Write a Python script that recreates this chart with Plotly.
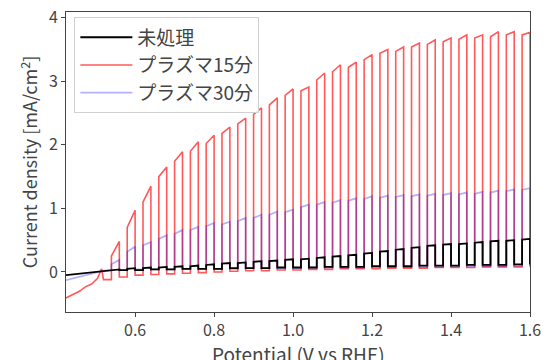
import plotly.graph_objects as go

# Chopped-light LSV: light-on intervals (V vs RHE)
on_start = [0.54, 0.58, 0.62, 0.66, 0.70, 0.74, 0.78, 0.82, 0.86, 0.90, 0.94, 0.98, 1.02, 1.06,
            1.10, 1.14, 1.18, 1.22, 1.26, 1.30, 1.34, 1.38, 1.42, 1.46, 1.50, 1.54, 1.58]
on_end = [0.56, 0.60, 0.64, 0.68, 0.72, 0.76, 0.80, 0.84, 0.88, 0.92, 0.96, 1.00, 1.04, 1.08,
          1.12, 1.16, 1.20, 1.24, 1.28, 1.32, 1.36, 1.40, 1.44, 1.48, 1.52, 1.56, 1.60]

# 未処理 (untreated)
black_pre_x = [0.425, 0.47, 0.52]
black_pre_y = [-0.05, -0.02, 0.01]
black_dark = [0.02, 0.03, 0.03, 0.04, 0.04, 0.05, 0.05, 0.05, 0.06, 0.06, 0.06, 0.07, 0.07, 0.07,
              0.08, 0.08, 0.08, 0.09, 0.09, 0.09, 0.10, 0.10, 0.10, 0.11, 0.11, 0.11, 0.12]
black_top_start = [0.03, 0.05, 0.06, 0.07, 0.08, 0.09, 0.11, 0.13, 0.14, 0.16, 0.17, 0.19, 0.20, 0.22,
                   0.24, 0.26, 0.29, 0.32, 0.35, 0.38, 0.41, 0.43, 0.44, 0.46, 0.48, 0.49, 0.51]
black_top_end = [0.04, 0.06, 0.07, 0.08, 0.09, 0.10, 0.12, 0.14, 0.15, 0.17, 0.18, 0.20, 0.21, 0.23,
                 0.25, 0.27, 0.30, 0.33, 0.36, 0.39, 0.42, 0.44, 0.45, 0.47, 0.49, 0.50, 0.52]

# プラズマ15分
red_pre_x = [0.425, 0.44, 0.46, 0.475, 0.49, 0.505, 0.515, 0.52]
red_pre_y = [-0.41, -0.36, -0.30, -0.23, -0.19, -0.10, 0.05, -0.12]
red_dark = [-0.12, -0.08, -0.05, -0.04, -0.03, -0.02, -0.01, 0.00, 0.01, 0.02, 0.02, 0.03, 0.03, 0.04,
            0.04, 0.05, 0.05, 0.05, 0.06, 0.06, 0.06, 0.07, 0.07, 0.07, 0.08, 0.08, 0.08]
red_top_start = [0.25, 0.70, 1.10, 1.50, 1.74, 1.90, 2.02, 2.18, 2.33, 2.48, 2.63, 2.78, 2.85, 3.02,
                 3.15, 3.22, 3.34, 3.44, 3.47, 3.54, 3.58, 3.62, 3.66, 3.68, 3.70, 3.73, 3.73]
red_top_end = [0.48, 0.97, 1.35, 1.65, 1.89, 2.05, 2.15, 2.28, 2.42, 2.58, 2.74, 2.88, 2.91, 3.13,
               3.26, 3.30, 3.42, 3.50, 3.54, 3.60, 3.65, 3.68, 3.73, 3.73, 3.78, 3.78, 3.77]

# プラズマ30分
blue_pre_x = [0.425, 0.47, 0.52]
blue_pre_y = [-0.13, -0.06, 0.02]
blue_dark = [0.03, 0.03, 0.04, 0.04, 0.04, 0.05, 0.05, 0.05, 0.05, 0.06, 0.06, 0.06, 0.06, 0.07,
             0.07, 0.07, 0.07, 0.08, 0.08, 0.08, 0.08, 0.08, 0.09, 0.09, 0.09, 0.09, 0.10]
blue_top_start = [0.12, 0.32, 0.42, 0.52, 0.60, 0.66, 0.72, 0.75, 0.80, 0.85, 0.90, 0.94, 1.02, 1.06,
                  1.09, 1.12, 1.15, 1.17, 1.18, 1.19, 1.20, 1.21, 1.22, 1.23, 1.25, 1.27, 1.29]
blue_top_end = [0.19, 0.40, 0.47, 0.58, 0.66, 0.71, 0.77, 0.79, 0.85, 0.90, 0.95, 0.98, 1.06, 1.10,
                1.13, 1.16, 1.19, 1.20, 1.21, 1.22, 1.23, 1.24, 1.25, 1.26, 1.28, 1.30, 1.32]

x_title = "Potential (V vs RHE)"
y_title = "Current density [mA/cm<sup>2</sup>]"


def build(pre_x, pre_y, dark, top_s, top_e):
    xs, ys = list(pre_x), list(pre_y)
    for k in range(len(on_start)):
        xs += [on_start[k], on_start[k], on_end[k], on_end[k]]
        nxt = dark[k + 1] if k + 1 < len(dark) else dark[k]
        ys += [dark[k], top_s[k], top_e[k], nxt]
    return xs, ys


fig = go.Figure()
rx, ry = build(red_pre_x, red_pre_y, red_dark, red_top_start, red_top_end)
bx, by = build(blue_pre_x, blue_pre_y, blue_dark, blue_top_start, blue_top_end)
kx, ky = build(black_pre_x, black_pre_y, black_dark, black_top_start, black_top_end)

fig.add_trace(go.Scatter(x=rx, y=ry, mode="lines", name="プラズマ15分", legendrank=2,
                         line=dict(color="rgba(255,0,0,0.65)", width=1.6)))
fig.add_trace(go.Scatter(x=bx, y=by, mode="lines", name="プラズマ30分", legendrank=3,
                         line=dict(color="rgba(0,0,255,0.3)", width=1.8)))
fig.add_trace(go.Scatter(x=kx, y=ky, mode="lines", name="未処理", legendrank=1,
                         line=dict(color="black", width=1.8)))

font = "Noto Sans CJK JP"
fig.update_layout(
    width=548, height=360,
    margin=dict(l=66, r=18, t=12, b=48),
    paper_bgcolor="white", plot_bgcolor="white",
    font=dict(family=font, size=16, color="#444"),
    showlegend=True,
    legend=dict(x=0.018, y=0.982, xanchor="left", yanchor="top",
                bgcolor="rgba(255,255,255,0.8)", bordercolor="#d0d0d0", borderwidth=1,
                font=dict(size=19, color="#444"), tracegroupgap=0, itemwidth=52),
    xaxis=dict(range=[0.425, 1.6], tickvals=[0.6, 0.8, 1.0, 1.2, 1.4, 1.6],
               ticktext=["0.6", "0.8", "1.0", "1.2", "1.4", "1.6"],
               showgrid=False, zeroline=False, showline=True, linecolor="#444", linewidth=1,
               mirror=True, ticks="outside", ticklen=4, tickcolor="#444",
               tickfont=dict(size=16), automargin=False),
    yaxis=dict(range=[-0.63, 4.09], tickvals=[0, 1, 2, 3, 4],
               showgrid=False, zeroline=False, showline=True, linecolor="#444", linewidth=1,
               mirror=True, ticks="outside", ticklen=4, tickcolor="#444",
               tickfont=dict(size=16), automargin=False,
               title=dict(text=y_title, standoff=6, font=dict(size=18))),
    annotations=[dict(text=x_title, xref="paper", yref="paper", x=0.5, y=0,
                      xanchor="center", yanchor="top", yshift=-26, showarrow=False,
                      font=dict(size=19, color="#444"))],
)

fig.write_html("out.html", config={"displayModeBar": False},
               post_script="document.body.style.margin='0';document.body.style.overflow='hidden';")
